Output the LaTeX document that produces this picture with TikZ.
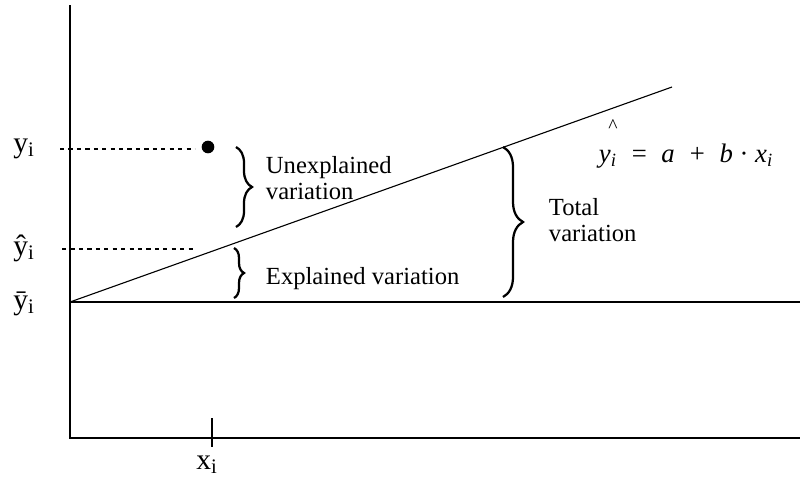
\documentclass[tikz,border=0pt]{standalone}
\usepackage{fontspec}
\setmainfont{Liberation Serif}
\usetikzlibrary{positioning, calc, decorations.pathreplacing}
\definecolor{inkline}{HTML}{000000}
\newcommand{\varbrace}[3]{%
  \draw[decorate, decoration={brace, amplitude=#3}, line width=1.6pt, inkline] (#1) -- (#2);}

\begin{document}
\begin{tikzpicture}[x=0.025cm, y=-0.025cm, font=\fontsize{17.5}{18.5}\selectfont]
  \useasboundingbox (0,0) rectangle (800,481);
  % axes and lines
  \coordinate (ytop) at (70,5);
  \coordinate (orig) at (70,438);
  \coordinate (xend) at (800,438);
  \coordinate (mean0) at (70,302);
  \coordinate (mean1) at (800,302);
  \coordinate (reg1) at (672,87);
  \draw[line width=1.4pt, inkline] (ytop) -- (orig) -- (xend);
  \draw[line width=1.1pt, inkline] (mean0) -- (mean1);
  \draw[line width=0.8pt, inkline] (mean0) -- (reg1);
  % observed point
  \node[circle, fill=inkline, inner sep=0pt, minimum size=9pt] (obs) at (208,147) {};
  % axis labels
  \node[font=\fontsize{21}{22}\selectfont] (yi) at (24,149) {y\textsubscript{i}};
  \node[font=\fontsize{21}{22}\selectfont] (yhat) at (24,248) {\^{y}\textsubscript{i}};
  \node[font=\fontsize{21}{22}\selectfont] (ybar) at (24,304) {\={y}\textsubscript{i}};
  \node[font=\fontsize{21}{22}\selectfont] (xi) at (207,465) {x\textsubscript{i}};
  \coordinate (dy0) at (60,149);
  \coordinate (dy1) at (195,149);
  \coordinate (dh0) at (62,249);
  \coordinate (dh1) at (195,249);
  \draw[dashed, line width=0.8pt] (dy0) -- (dy1);
  \draw[dashed, line width=0.8pt] (dh0) -- (dh1);
  \coordinate (tick0) at (212,418);
  \coordinate (tick1) at (212,447);
  \draw[line width=0.8pt] (tick0) -- (tick1);
  % braces
  \coordinate (ub0) at (236,147);
  \coordinate (ub1) at (236,227);
  \coordinate (eb0) at (234,248);
  \coordinate (eb1) at (234,298);
  \coordinate (tb0) at (503,147);
  \coordinate (tb1) at (503,297);
  \varbrace{ub0}{ub1}{0.4cm}
  \varbrace{eb0}{eb1}{0.25cm}
  \varbrace{tb0}{tb1}{0.5cm}
  \node[anchor=west, align=left] (unexp) at (261,178) {Unexplained\\variation};
  \node[anchor=west] (expl) at (261,279) {Explained variation};
  \node[anchor=west, align=left] (total) at (544,220) {Total\\variation};
  % regression equation
  \node[anchor=west, font=\fontsize{19}{20}\selectfont\itshape] (eqn) at (594,156)
    {y\textsubscript{i} ~=~ a ~+~ b {\upshape\textperiodcentered} x\textsubscript{i}};
  \node[font=\fontsize{14}{14}\selectfont, inner sep=0pt] (hat) at (613,126) {\^{}};
\end{tikzpicture}
\end{document}
